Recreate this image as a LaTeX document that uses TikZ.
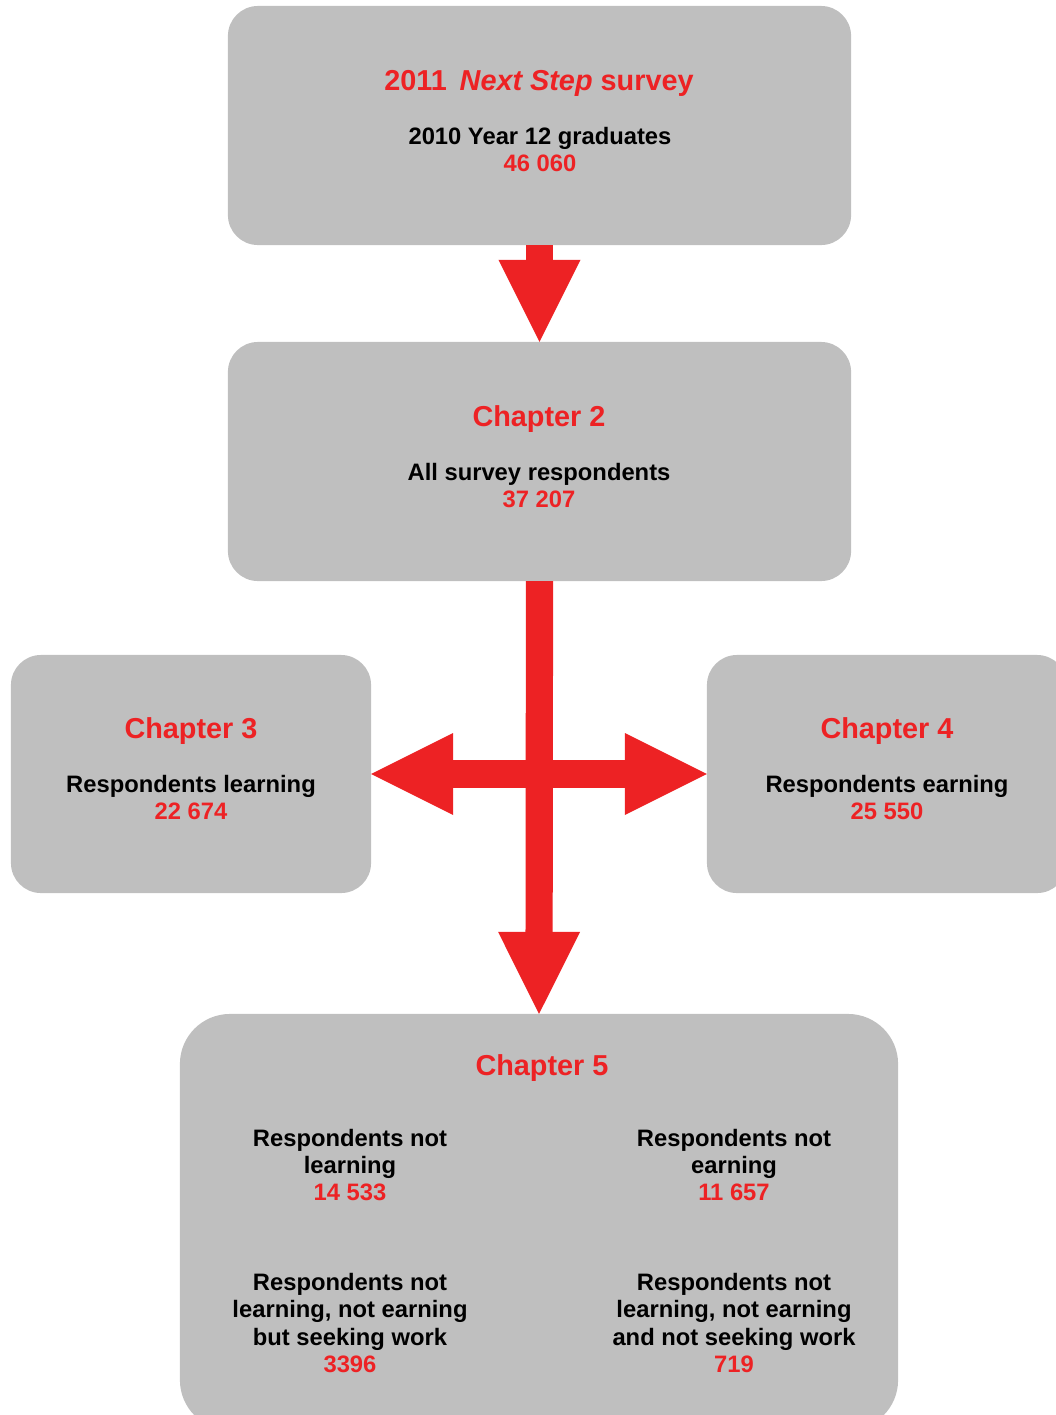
\documentclass[tikz,border=0pt]{standalone}
\usepackage{fontspec}
\setmainfont{Liberation Sans}
\usetikzlibrary{arrows.meta}
\definecolor{boxgrey}{HTML}{BFBFBF}
\definecolor{chred}{HTML}{ED2224}
\begin{document}
\begin{tikzpicture}[x=0.025cm,y=-0.025cm]

    \tikzset{
      box/.style={
        fill=boxgrey,
        draw=none,
        rounded corners=0.75cm,
        inner sep=0pt,
        outer sep=0pt,
      },
      head/.style={
        text=chred,
        font=\fontsize{20.5}{24}\selectfont\bfseries,
      },
      body/.style={
        align=center,
        font=\fontsize{16.9}{19.5}\selectfont\bfseries,
      },
      flow/.style={
        draw=chred,
        line width=0.68cm,
      },
      >={Triangle[width=2.05cm,length=2.05cm,line width=0pt]},
    }
    \useasboundingbox (0,0) rectangle (1056,1415);
    \clip (0,0) rectangle (1056,1415);
	\node[box,minimum width=15.575cm,minimum height=5.975cm] (survey) at (539.5,125.5) {};
	\node[box,minimum width=15.575cm,minimum height=5.975cm] (ch2) at (539.5,461.5) {};
	\node[box,minimum width=9cm,minimum height=5.95cm] (ch3) at (191,774) {};
	\node[box,minimum width=9cm,minimum height=5.95cm] (ch4) at (887,774) {};
	\node[box,rounded corners=1.25cm,minimum width=17.95cm,minimum height=10.4cm] (ch5) at (539,1222) {};
	\draw[flow,->] (survey.south) -- (ch2.north);
	\draw[flow,->] (ch2.south) -- (ch5.north);
	\draw[flow,<->] (ch3.east) -- (ch4.west);
	\node[head] (survey-title) at (539,83) {2011\,\ \textit{Next Step} survey};
	\node[body] (survey-text) at (540,149.5) {2010 Year 12 graduates\\\textcolor{chred}{46 060}};
	\node[head] (ch2-title) at (539,419) {Chapter 2};
	\node[body] (ch2-text) at (539,485.5) {All survey respondents\\\textcolor{chred}{37 207}};
	\node[head] (ch3-title) at (191,731) {Chapter 3};
	\node[body] (ch3-text) at (191,797.5) {Respondents learning\\\textcolor{chred}{22 674}};
	\node[head] (ch4-title) at (887,731) {Chapter 4};
	\node[body] (ch4-text) at (887,797.5) {Respondents earning\\\textcolor{chred}{25 550}};
	\node[head] (ch5-title) at (542,1068) {Chapter 5};
	\node[body] (ch5-nl) at (350,1165) {Respondents not\\learning\\\textcolor{chred}{14 533}};
	\node[body] (ch5-ne) at (734,1165) {Respondents not\\earning\\\textcolor{chred}{11 657}};
	\node[body] (ch5-seek) at (350,1323) {Respondents not\\learning, not earning\\but seeking work\\\textcolor{chred}{3396}};
	\node[body] (ch5-noseek) at (734,1323) {Respondents not\\learning, not earning\\and not seeking work\\\textcolor{chred}{719}};

\end{tikzpicture}
\end{document}
